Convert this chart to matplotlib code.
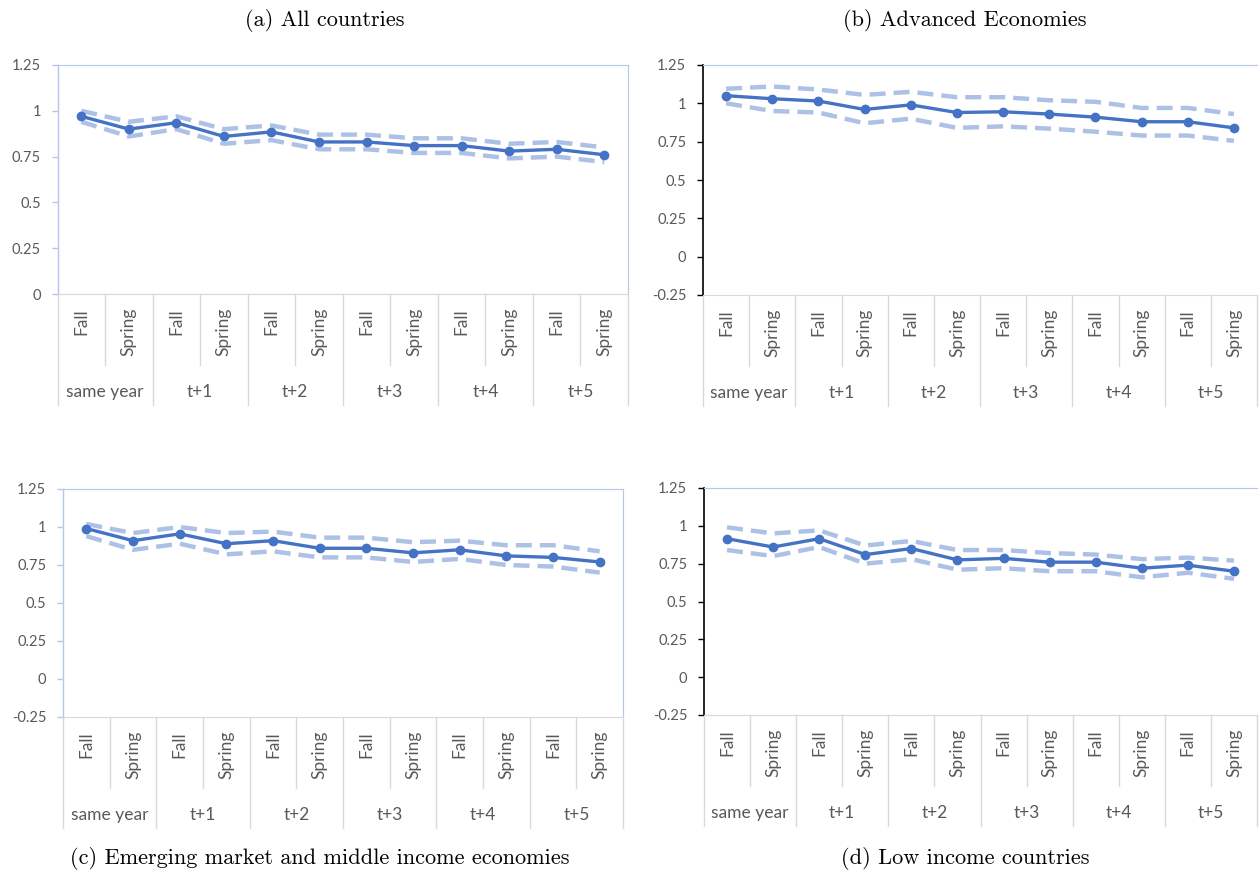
import matplotlib
matplotlib.use("Agg")
import matplotlib.pyplot as plt
from matplotlib.transforms import blended_transform_factory

W, H = 1259, 873

seasons = ["Fall", "Spring"] * 6
horizons = ["same year", "t+1", "t+2", "t+3", "t+4", "t+5"]
yticks = [-0.25, 0, 0.25, 0.5, 0.75, 1, 1.25]
ytick_labels = ["-0.25", "0", "0.25", "0.5", "0.75", "1", "1.25"]

# point estimates and upper / lower bands, one value per forecast vintage
all_mid = [0.97, 0.90, 0.935, 0.86, 0.885, 0.83, 0.83, 0.81, 0.81, 0.78, 0.79, 0.76]
all_hi = [1.00, 0.94, 0.97, 0.90, 0.92, 0.87, 0.87, 0.85, 0.85, 0.82, 0.83, 0.80]
all_lo = [0.94, 0.86, 0.90, 0.82, 0.84, 0.79, 0.79, 0.77, 0.77, 0.74, 0.75, 0.72]

adv_mid = [1.05, 1.03, 1.015, 0.96, 0.99, 0.94, 0.945, 0.93, 0.91, 0.88, 0.88, 0.84]
adv_hi = [1.095, 1.11, 1.09, 1.055, 1.075, 1.04, 1.04, 1.02, 1.01, 0.97, 0.97, 0.93]
adv_lo = [1.00, 0.95, 0.94, 0.87, 0.90, 0.84, 0.85, 0.835, 0.815, 0.79, 0.79, 0.755]

em_mid = [0.99, 0.91, 0.955, 0.89, 0.91, 0.86, 0.86, 0.83, 0.85, 0.81, 0.80, 0.77]
em_hi = [1.02, 0.96, 1.00, 0.96, 0.97, 0.93, 0.93, 0.90, 0.91, 0.88, 0.88, 0.84]
em_lo = [0.94, 0.85, 0.89, 0.82, 0.84, 0.80, 0.80, 0.77, 0.79, 0.75, 0.74, 0.70]

lic_mid = [0.915, 0.86, 0.915, 0.81, 0.85, 0.775, 0.785, 0.76, 0.76, 0.72, 0.74, 0.70]
lic_hi = [0.99, 0.95, 0.97, 0.87, 0.90, 0.84, 0.84, 0.82, 0.81, 0.78, 0.79, 0.77]
lic_lo = [0.84, 0.80, 0.86, 0.75, 0.78, 0.71, 0.72, 0.70, 0.70, 0.66, 0.69, 0.65]

main_color = "#4472c4"
band_color = "#adc1e6"
frame_color = "#b4c7e7"
grid_color = "#d9d9d9"
text_color = "#595959"
tick_font = "Lato"

fig = plt.figure(figsize=(W / 100, H / 100), dpi=100)


def make_axes(left, right, top, bottom):
    return fig.add_axes([left / W, 1 - bottom / H, (right - left) / W, (bottom - top) / H])


def draw_panel(ax, mid, hi, lo, ymin, axis_color, boxed):
    x = list(range(len(mid)))
    ax.plot(x, hi, color=band_color, lw=3.2, ls=(0, (3.6, 1.8)))
    ax.plot(x, lo, color=band_color, lw=3.2, ls=(0, (3.6, 1.8)))
    ax.plot(x, mid, color=main_color, lw=2.4, marker="o", ms=6)

    ax.set_xlim(-0.5, len(mid) - 0.5)
    ax.set_ylim(ymin, 1.25)
    ticks = [t for t in yticks if t >= ymin]
    ax.set_yticks(ticks)
    ax.set_yticklabels([ytick_labels[yticks.index(t)] for t in ticks])
    ax.tick_params(axis="y", length=4, width=1, color=axis_color, pad=8,
                   labelsize=10.5, labelcolor=text_color)
    for lab in ax.get_yticklabels():
        lab.set_fontfamily(tick_font)
    ax.set_xticks([])

    ax.spines["left"].set_color(axis_color)
    ax.spines["left"].set_linewidth(1.2 if axis_color == "black" else 1)
    ax.spines["top"].set_color(frame_color)
    ax.spines["bottom"].set_color(grid_color)
    ax.spines["right"].set_color(frame_color)
    ax.spines["right"].set_visible(boxed)

    # category axis drawn below the plot area: separators and two label rows
    h_px = ax.get_position().height * H
    trans = blended_transform_factory(ax.transData, ax.transAxes)
    short_end = -71 / h_px
    long_end = -111 / h_px
    for k in range(len(mid) + 1):
        end = long_end if k % 2 == 0 else short_end
        ax.plot([k - 0.5, k - 0.5], [0, end], color=grid_color, lw=1,
                transform=trans, clip_on=False)
    for k, name in enumerate(seasons):
        ax.text(k, -14 / h_px, name, transform=trans, rotation=90, ha="center",
                va="top", fontsize=12.5, color=text_color, fontfamily=tick_font)
    for g, name in enumerate(horizons):
        ax.text(2 * g + 0.5, -98 / h_px, name, transform=trans, ha="center",
                va="center", fontsize=12.5, color=text_color, fontfamily=tick_font)


ax_a = make_axes(57.5, 628, 65, 294)
draw_panel(ax_a, all_mid, all_hi, all_lo, 0, frame_color, True)
ax_b = make_axes(703, 1257, 65, 295)
draw_panel(ax_b, adv_mid, adv_hi, adv_lo, -0.25, "black", False)
ax_c = make_axes(63, 623, 489, 717)
draw_panel(ax_c, em_mid, em_hi, em_lo, -0.25, frame_color, True)
ax_d = make_axes(704, 1257, 488, 715)
draw_panel(ax_d, lic_mid, lic_hi, lic_lo, -0.25, "black", False)

captions = [
    (325, 20, "(a) All countries"),
    (965, 20, "(b) Advanced Economies"),
    (320, 858, "(c) Emerging market and middle income economies"),
    (965, 858, "(d) Low income countries"),
]
for cx, cy, txt in captions:
    fig.text(cx / W, 1 - cy / H, txt, ha="center", va="center", fontsize=16,
             fontfamily="cmr10", color="black")

fig.savefig("out.png", dpi=100)
